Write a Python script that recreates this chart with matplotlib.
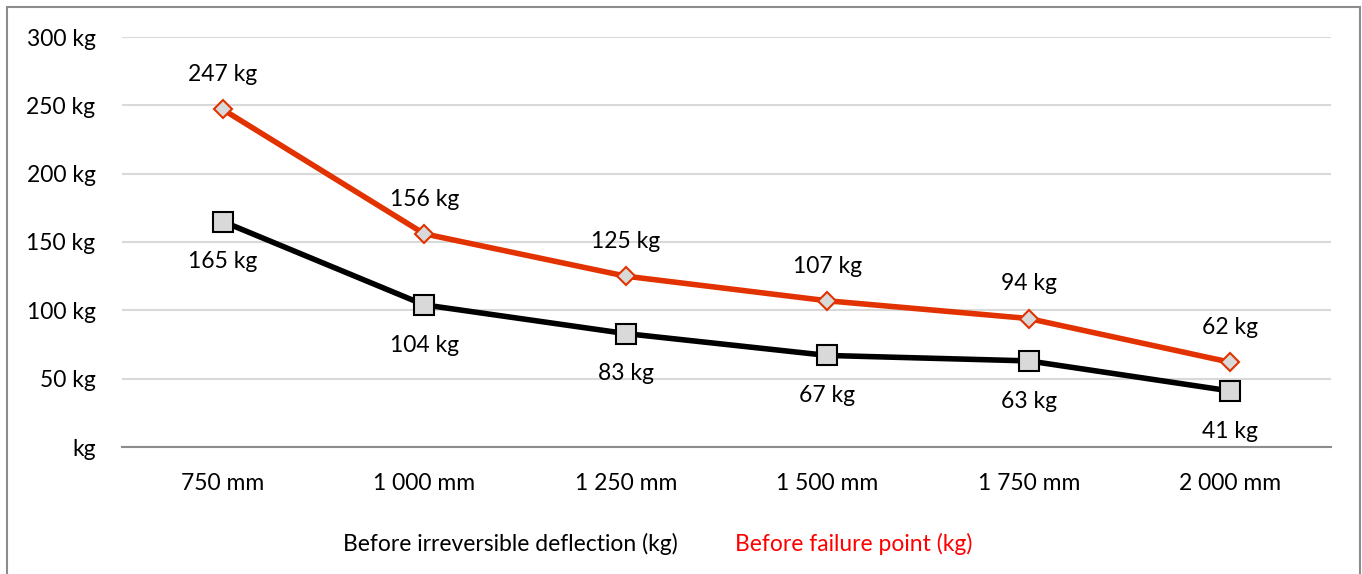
import matplotlib
matplotlib.use("Agg")
import matplotlib.pyplot as plt
from matplotlib.patches import Rectangle

categories = ["750 mm", "1 000 mm", "1 250 mm", "1 500 mm", "1 750 mm", "2 000 mm"]
deflection = [165, 104, 83, 67, 63, 41]
failure = [247, 156, 125, 107, 94, 62]
yticks = [0, 50, 100, 150, 200, 250, 300]
ytick_labels = ["kg", "50 kg", "100 kg", "150 kg", "200 kg", "250 kg", "300 kg"]

plt.rcParams['font.family'] = ['Lato', 'DejaVu Sans']
FS = 16.5

fig = plt.figure(figsize=(13.62, 5.74), dpi=100)
W, H = 1362, 574
ax = fig.add_axes([122 / W, 1 - 447 / H, (1331 - 122) / W, (447 - 37) / H])

x = list(range(len(categories)))
ax.plot(x, failure, color="#E23200", lw=4, marker="D", ms=9, mfc="#D9D9D9",
        mec="#E23200", mew=1.5, zorder=3, solid_joinstyle="round")
ax.plot(x, deflection, color="black", lw=4, marker="s", ms=14, mfc="#D9D9D9",
        mec="black", mew=1.5, zorder=4, solid_joinstyle="round")

for xi, v in zip(x, failure):
    ax.annotate(f"{v} kg", (xi, v), xytext=(0, 25), textcoords="offset points",
                ha="center", va="center", fontsize=FS, color="black")
for xi, v in zip(x, deflection):
    ax.annotate(f"{v} kg", (xi, v), xytext=(0, -29), textcoords="offset points",
                ha="center", va="center", fontsize=FS, color="black")

ax.set_xlim(-0.5, len(categories) - 0.5)
ax.set_ylim(0, 300)
ax.set_yticks(yticks)
ax.set_yticklabels(ytick_labels, fontsize=FS)
ax.set_xticks(x)
ax.set_xticklabels(categories, fontsize=FS)
ax.tick_params(axis="both", length=0)
ax.tick_params(axis="y", pad=19)
ax.tick_params(axis="x", pad=19)
ax.grid(axis="y", color="#D9D9D9", lw=1.5)
ax.set_axisbelow(True)
for s in ["top", "right", "left"]:
    ax.spines[s].set_visible(False)
ax.spines["bottom"].set_color("#8C8C8C")
ax.spines["bottom"].set_linewidth(1.5)
ax.spines["bottom"].set_zorder(2)

# legend as colored text
fig.text(343 / W, 1 - 544 / H, "Before irreversible deflection (kg)", fontsize=FS,
         color="black", va="center", ha="left")
fig.text(735 / W, 1 - 544 / H, "Before failure point (kg)", fontsize=FS,
         color="#FF0000", va="center", ha="left")

# outer frame
fig.patches.append(Rectangle((7 / W, -0.01), (1360 - 7) / W, 1 - 7 / H + 0.01,
                             transform=fig.transFigure, fill=False,
                             edgecolor="#8C8C8C", lw=1.5))

fig.savefig("out.png", dpi=100, facecolor="white")
